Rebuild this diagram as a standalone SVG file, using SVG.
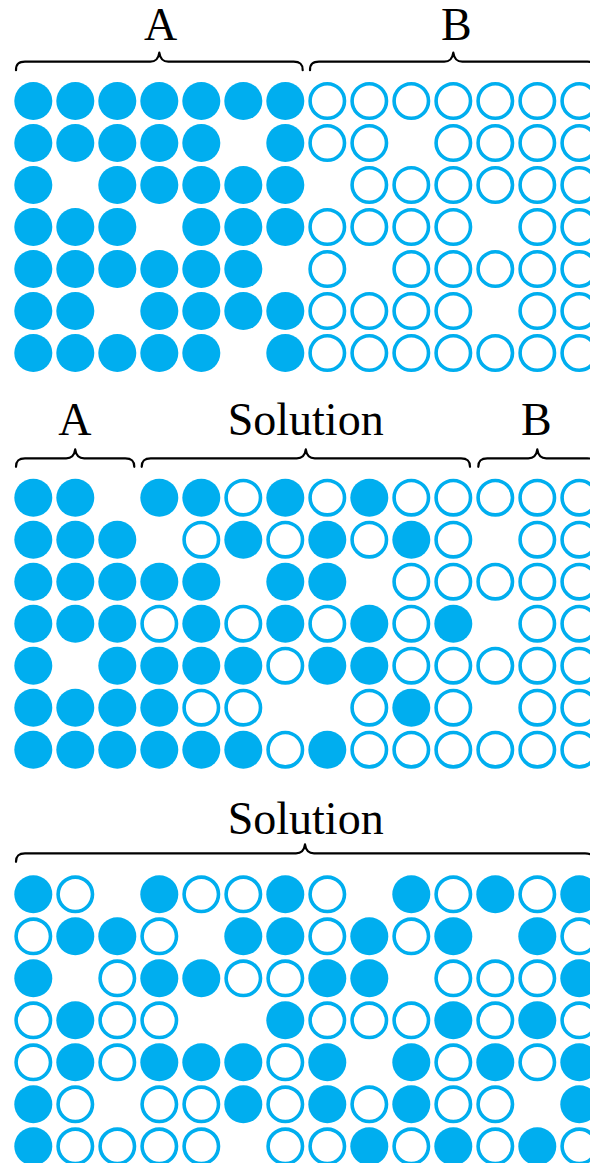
<svg xmlns="http://www.w3.org/2000/svg" width="590" height="1163" viewBox="0 0 590 1163">
  <style>
    .f { fill: #00AEEF; }
    .h { fill: none; stroke: #00AEEF; stroke-width: 3.6; }
    .brace { fill: none; stroke: #000; stroke-width: 2.2; stroke-linecap: round; stroke-linejoin: round; }
    .lbl { font-size: 46px; fill: #000; text-anchor: middle; }
  </style>
  <defs>
    <circle id="F" class="f" r="19"/>
    <circle id="H" class="h" r="17.2"/>
  </defs>
  <rect width="590" height="1163" fill="#fff"/>

  <!-- Top panel: group A (filled) next to group B (hollow) -->
  <g id="panel-1">
    <text class="lbl" font-family="'Liberation Serif', 'DejaVu Serif', serif" x="160.5" y="40">A</text>
    <text class="lbl" font-family="'Liberation Serif', 'DejaVu Serif', serif" x="456.3" y="40">B</text>
    <path class="brace" d="M16,70.2 C16,63.7 19,61.7 25,61.7 L150.3,61.7 C155.3,61.7 158.3,59.7 159.3,52.7 C160.3,59.7 163.3,61.7 168.3,61.7 L293.7,61.7 C299.7,61.7 302.7,63.7 302.7,70.2"/>
    <path class="brace" d="M310,70.2 C310,63.7 313,61.7 319,61.7 L444.3,61.7 C449.3,61.7 452.3,59.7 453.3,52.7 C454.3,59.7 457.3,61.7 462.3,61.7 L587.6,61.7 C593.6,61.7 596.6,63.7 596.6,70.2"/>
    <g transform="translate(33.3,101)">
      <use href="#F" x="0"/><use href="#F" x="42"/><use href="#F" x="84"/><use href="#F" x="126"/><use href="#F" x="168"/><use href="#F" x="210"/><use href="#F" x="252"/>
      <use href="#H" x="294"/><use href="#H" x="336"/><use href="#H" x="378"/><use href="#H" x="420"/><use href="#H" x="462"/><use href="#H" x="504"/><use href="#H" x="546"/>
    </g>
    <g transform="translate(33.3,143)">
      <use href="#F" x="0"/><use href="#F" x="42"/><use href="#F" x="84"/><use href="#F" x="126"/><use href="#F" x="168"/><use href="#F" x="252"/>
      <use href="#H" x="294"/><use href="#H" x="336"/><use href="#H" x="420"/><use href="#H" x="462"/><use href="#H" x="504"/><use href="#H" x="546"/>
    </g>
    <g transform="translate(33.3,185)">
      <use href="#F" x="0"/><use href="#F" x="84"/><use href="#F" x="126"/><use href="#F" x="168"/><use href="#F" x="210"/><use href="#F" x="252"/>
      <use href="#H" x="336"/><use href="#H" x="378"/><use href="#H" x="420"/><use href="#H" x="462"/><use href="#H" x="504"/><use href="#H" x="546"/>
    </g>
    <g transform="translate(33.3,227)">
      <use href="#F" x="0"/><use href="#F" x="42"/><use href="#F" x="84"/><use href="#F" x="168"/><use href="#F" x="210"/><use href="#F" x="252"/>
      <use href="#H" x="294"/><use href="#H" x="336"/><use href="#H" x="378"/><use href="#H" x="420"/><use href="#H" x="504"/><use href="#H" x="546"/>
    </g>
    <g transform="translate(33.3,269)">
      <use href="#F" x="0"/><use href="#F" x="42"/><use href="#F" x="84"/><use href="#F" x="126"/><use href="#F" x="168"/><use href="#F" x="210"/>
      <use href="#H" x="294"/><use href="#H" x="378"/><use href="#H" x="420"/><use href="#H" x="462"/><use href="#H" x="504"/><use href="#H" x="546"/>
    </g>
    <g transform="translate(33.3,311)">
      <use href="#F" x="0"/><use href="#F" x="42"/><use href="#F" x="126"/><use href="#F" x="168"/><use href="#F" x="210"/><use href="#F" x="252"/>
      <use href="#H" x="294"/><use href="#H" x="336"/><use href="#H" x="378"/><use href="#H" x="420"/><use href="#H" x="504"/><use href="#H" x="546"/>
    </g>
    <g transform="translate(33.3,353)">
      <use href="#F" x="0"/><use href="#F" x="42"/><use href="#F" x="84"/><use href="#F" x="126"/><use href="#F" x="168"/><use href="#F" x="252"/>
      <use href="#H" x="294"/><use href="#H" x="336"/><use href="#H" x="378"/><use href="#H" x="420"/><use href="#H" x="462"/><use href="#H" x="504"/><use href="#H" x="546"/>
    </g>
  </g>

  <!-- Middle panel: A, mixed solution, B -->
  <g id="panel-2">
    <text class="lbl" font-family="'Liberation Serif', 'DejaVu Serif', serif" x="74.8" y="435">A</text>
    <text class="lbl" font-family="'Liberation Serif', 'DejaVu Serif', serif" x="305.7" y="435">Solution</text>
    <text class="lbl" font-family="'Liberation Serif', 'DejaVu Serif', serif" x="536.3" y="435">B</text>
    <path class="brace" d="M16,466.8 C16,460.3 19,458.3 25,458.3 L66.2,458.3 C71.2,458.3 74.2,456.3 75.2,449.3 C76.2,456.3 79.2,458.3 84.2,458.3 L125.3,458.3 C131.3,458.3 134.3,460.3 134.3,466.8"/>
    <path class="brace" d="M141.7,466.8 C141.7,460.3 144.7,458.3 150.7,458.3 L296.8,458.3 C301.8,458.3 304.8,456.3 305.8,449.3 C306.8,456.3 309.8,458.3 314.8,458.3 L461,458.3 C467,458.3 470,460.3 470,466.8"/>
    <path class="brace" d="M478.3,466.8 C478.3,460.3 481.3,458.3 487.3,458.3 L528.3,458.3 C533.3,458.3 536.3,456.3 537.3,449.3 C538.3,456.3 541.3,458.3 546.3,458.3 L587.3,458.3 C593.3,458.3 596.3,460.3 596.3,466.8"/>
    <g transform="translate(33.3,497.7)">
      <use href="#F" x="0"/><use href="#F" x="42"/><use href="#F" x="126"/><use href="#F" x="168"/><use href="#H" x="210"/><use href="#F" x="252"/><use href="#H" x="294"/>
      <use href="#F" x="336"/><use href="#H" x="378"/><use href="#H" x="420"/><use href="#H" x="462"/><use href="#H" x="504"/><use href="#H" x="546"/>
    </g>
    <g transform="translate(33.3,539.7)">
      <use href="#F" x="0"/><use href="#F" x="42"/><use href="#F" x="84"/><use href="#H" x="168"/><use href="#F" x="210"/><use href="#H" x="252"/><use href="#F" x="294"/>
      <use href="#H" x="336"/><use href="#F" x="378"/><use href="#H" x="420"/><use href="#H" x="504"/><use href="#H" x="546"/>
    </g>
    <g transform="translate(33.3,581.7)">
      <use href="#F" x="0"/><use href="#F" x="42"/><use href="#F" x="84"/><use href="#F" x="126"/><use href="#F" x="168"/><use href="#F" x="252"/><use href="#F" x="294"/>
      <use href="#H" x="378"/><use href="#H" x="420"/><use href="#H" x="462"/><use href="#H" x="504"/><use href="#H" x="546"/>
    </g>
    <g transform="translate(33.3,623.7)">
      <use href="#F" x="0"/><use href="#F" x="42"/><use href="#F" x="84"/><use href="#H" x="126"/><use href="#F" x="168"/><use href="#H" x="210"/><use href="#F" x="252"/>
      <use href="#H" x="294"/><use href="#F" x="336"/><use href="#H" x="378"/><use href="#F" x="420"/><use href="#H" x="504"/><use href="#H" x="546"/>
    </g>
    <g transform="translate(33.3,665.7)">
      <use href="#F" x="0"/><use href="#F" x="84"/><use href="#F" x="126"/><use href="#F" x="168"/><use href="#F" x="210"/><use href="#H" x="252"/><use href="#F" x="294"/>
      <use href="#F" x="336"/><use href="#H" x="378"/><use href="#H" x="420"/><use href="#H" x="462"/><use href="#H" x="504"/><use href="#H" x="546"/>
    </g>
    <g transform="translate(33.3,707.7)">
      <use href="#F" x="0"/><use href="#F" x="42"/><use href="#F" x="84"/><use href="#F" x="126"/><use href="#H" x="168"/><use href="#H" x="210"/>
      <use href="#H" x="336"/><use href="#F" x="378"/><use href="#H" x="420"/><use href="#H" x="504"/><use href="#H" x="546"/>
    </g>
    <g transform="translate(33.3,749.7)">
      <use href="#F" x="0"/><use href="#F" x="42"/><use href="#F" x="84"/><use href="#F" x="126"/><use href="#F" x="168"/><use href="#F" x="210"/><use href="#H" x="252"/>
      <use href="#F" x="294"/><use href="#H" x="336"/><use href="#H" x="378"/><use href="#H" x="420"/><use href="#H" x="462"/><use href="#H" x="504"/><use href="#H" x="546"/>
    </g>
  </g>

  <!-- Bottom panel: full mixed solution -->
  <g id="panel-3">
    <text class="lbl" font-family="'Liberation Serif', 'DejaVu Serif', serif" x="305.7" y="834">Solution</text>
    <path class="brace" d="M16,861.8 C16,855.3 19,853.3 25,853.3 L296,853.3 C301,853.3 304,851.3 305,844.3 C306,851.3 309,853.3 314,853.3 L585,853.3 C591,853.3 594,855.3 594,861.8"/>
    <g transform="translate(33.3,894.3)">
      <use href="#F" x="0"/><use href="#H" x="42"/><use href="#F" x="126"/><use href="#H" x="168"/><use href="#H" x="210"/><use href="#F" x="252"/><use href="#H" x="294"/>
      <use href="#F" x="378"/><use href="#H" x="420"/><use href="#F" x="462"/><use href="#H" x="504"/><use href="#F" x="546"/>
    </g>
    <g transform="translate(33.3,936.3)">
      <use href="#H" x="0"/><use href="#F" x="42"/><use href="#F" x="84"/><use href="#H" x="126"/><use href="#F" x="210"/><use href="#F" x="252"/><use href="#H" x="294"/>
      <use href="#F" x="336"/><use href="#H" x="378"/><use href="#F" x="420"/><use href="#F" x="504"/><use href="#H" x="546"/>
    </g>
    <g transform="translate(33.3,978.3)">
      <use href="#F" x="0"/><use href="#H" x="84"/><use href="#F" x="126"/><use href="#F" x="168"/><use href="#H" x="210"/><use href="#H" x="252"/><use href="#F" x="294"/>
      <use href="#F" x="336"/><use href="#H" x="420"/><use href="#H" x="462"/><use href="#H" x="504"/><use href="#F" x="546"/>
    </g>
    <g transform="translate(33.3,1020.3)">
      <use href="#H" x="0"/><use href="#F" x="42"/><use href="#H" x="84"/><use href="#H" x="126"/><use href="#F" x="252"/><use href="#H" x="294"/>
      <use href="#H" x="336"/><use href="#H" x="378"/><use href="#F" x="420"/><use href="#H" x="462"/><use href="#F" x="504"/><use href="#H" x="546"/>
    </g>
    <g transform="translate(33.3,1062.3)">
      <use href="#H" x="0"/><use href="#F" x="42"/><use href="#H" x="84"/><use href="#F" x="126"/><use href="#F" x="168"/><use href="#F" x="210"/><use href="#H" x="252"/>
      <use href="#F" x="294"/><use href="#F" x="378"/><use href="#H" x="420"/><use href="#F" x="462"/><use href="#H" x="504"/><use href="#F" x="546"/>
    </g>
    <g transform="translate(33.3,1104.3)">
      <use href="#F" x="0"/><use href="#H" x="42"/><use href="#H" x="126"/><use href="#H" x="168"/><use href="#F" x="210"/><use href="#H" x="252"/><use href="#F" x="294"/>
      <use href="#H" x="336"/><use href="#F" x="378"/><use href="#H" x="420"/><use href="#H" x="462"/><use href="#F" x="546"/>
    </g>
    <g transform="translate(33.3,1146.3)">
      <use href="#F" x="0"/><use href="#H" x="42"/><use href="#H" x="84"/><use href="#H" x="126"/><use href="#H" x="168"/><use href="#H" x="252"/><use href="#H" x="294"/>
      <use href="#F" x="336"/><use href="#H" x="378"/><use href="#F" x="420"/><use href="#H" x="462"/><use href="#F" x="504"/><use href="#H" x="546"/>
    </g>
  </g>
</svg>
